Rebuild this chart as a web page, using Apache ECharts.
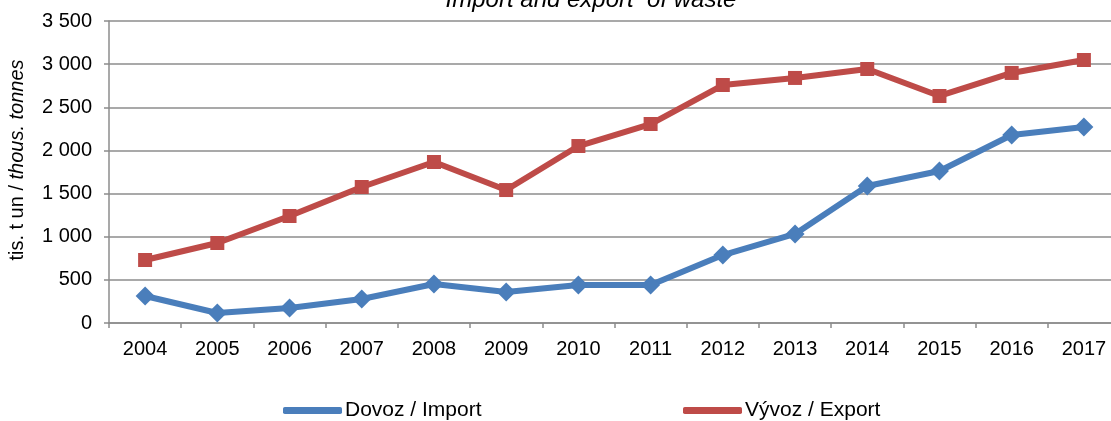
<!DOCTYPE html>
<html>
<head>
<meta charset="utf-8">
<script src="https://cdn.jsdelivr.net/npm/echarts@6/dist/echarts.min.js"></script>
<style>
  html, body { margin: 0; padding: 0; background: #fff; }
  #chart { width: 1111px; height: 421px; }
</style>
</head>
<body>
<div id="chart"></div>
<script>
// roky / years
const years = ['2004', '2005', '2006', '2007', '2008', '2009', '2010', '2011', '2012', '2013', '2014', '2015', '2016', '2017'];
// dovoz / import (tis. t)
const importData = [313, 116, 174, 278, 452, 359, 440, 440, 788, 1032, 1588, 1762, 2179, 2272];
// vyvoz / export (tis. t)
const exportData = [730, 927, 1240, 1576, 1866, 1541, 2051, 2306, 2758, 2840, 2944, 2631, 2898, 3048];

const font = 'Liberation Sans, Arial, sans-serif';
const blue = '#4A7EBB';
const red = '#BE4B48';

let myChart = echarts.init(document.getElementById('chart'));

myChart.setOption({
  animation: false,
  title: {
    text: 'Import and export  of waste',
    left: 586,
    textAlign: 'center',
    top: -17,
    textStyle: {
      fontFamily: font,
      fontSize: 24,
      fontStyle: 'italic',
      fontWeight: 'normal',
      color: '#000'
    }
  },
  legend: [
    {
      left: 283,
      top: 400,
      padding: 0,
      data: ['Dovoz / Import'],
      icon: 'roundRect',
      itemWidth: 59,
      itemHeight: 7,
      itemGap: 0,
      textStyle: { fontFamily: font, fontSize: 21, color: '#000', padding: [0, 0, 0, -2] }
    },
    {
      left: 683,
      top: 400,
      padding: 0,
      data: ['Vývoz / Export'],
      icon: 'roundRect',
      itemWidth: 59,
      itemHeight: 7,
      itemGap: 0,
      textStyle: { fontFamily: font, fontSize: 21, color: '#000', padding: [0, 0, 0, -2] }
    }
  ],
  grid: {
    left: 109,
    top: 21,
    bottom: 98,
    width: 1011,
    containLabel: false,
    outerBoundsMode: 'none'
  },
  xAxis: {
    type: 'category',
    data: years,
    boundaryGap: true,
    axisLine: { show: true, lineStyle: { color: '#8c8c8c', width: 1.5 } },
    axisTick: { show: true, inside: false, length: 5, lineStyle: { color: '#8c8c8c', width: 1.5 } },
    axisLabel: {
      interval: 0,
      margin: 16,
      fontFamily: font,
      fontSize: 20,
      color: '#000'
    },
    splitLine: { show: false }
  },
  yAxis: {
    type: 'value',
    min: 0,
    max: 3500,
    interval: 500,
    name: '{n|tis. t un / }{i|thous. tonnes}',
    nameLocation: 'middle',
    nameRotate: 90,
    nameGap: 82,
    nameTextStyle: {
      padding: [0, 0, 0, 24],
      rich: {
        n: { fontFamily: font, fontSize: 20, color: '#000' },
        i: { fontFamily: font, fontSize: 20, color: '#000', fontStyle: 'italic' }
      }
    },
    axisLine: { show: true, lineStyle: { color: '#8c8c8c', width: 1.5 } },
    axisTick: { show: true, length: 5, lineStyle: { color: '#8c8c8c', width: 1.5 } },
    axisLabel: {
      margin: 17,
      fontFamily: font,
      fontSize: 20,
      color: '#000',
      formatter: function (v) {
        return String(v).replace(/\B(?=(\d{3})+(?!\d))/g, ' ');
      }
    },
    splitLine: { show: true, lineStyle: { color: '#8c8c8c', width: 1.5 } }
  },
  series: [
    {
      name: 'Dovoz / Import',
      type: 'line',
      data: importData,
      symbol: 'diamond',
      symbolSize: 19,
      lineStyle: { color: blue, width: 6 },
      itemStyle: { color: blue },
      z: 3
    },
    {
      name: 'Vývoz / Export',
      type: 'line',
      data: exportData,
      symbol: 'rect',
      symbolSize: 14,
      lineStyle: { color: red, width: 6 },
      itemStyle: { color: red },
      z: 3
    }
  ]
});
</script>
</body>
</html>
